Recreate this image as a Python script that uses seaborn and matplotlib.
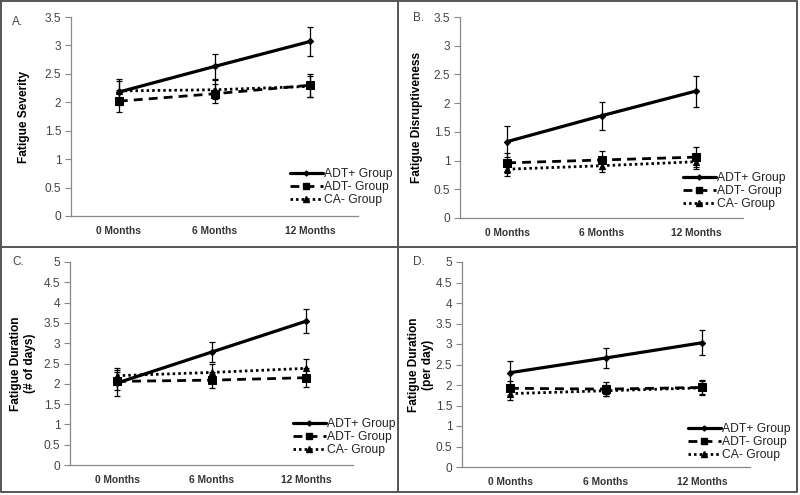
#Loading necessary modules
import numpy as np
import pandas as pd
import matplotlib
matplotlib.use('Agg')
import matplotlib.pyplot as plt
from matplotlib.lines import Line2D
import seaborn as sns

#time points and groups
times = ['0 Months', '6 Months', '12 Months']
groups = ['ADT+ Group', 'ADT- Group', 'CA- Group']

#A. fatigue severity (means and error bars)
sev_adtp = [2.18, 2.63, 3.07]
sev_adtp_err = [0.23, 0.22, 0.26]
sev_adtm = [2.02, 2.15, 2.30]
sev_adtm_err = [0.19, 0.17, 0.20]
sev_ca = [2.20, 2.22, 2.28]
sev_ca_err = [0.18, 0.17, 0.18]

#B. fatigue disruptiveness
dis_adtp = [1.33, 1.78, 2.21]
dis_adtp_err = [0.27, 0.24, 0.27]
dis_adtm = [0.96, 1.01, 1.06]
dis_adtm_err = [0.17, 0.16, 0.18]
dis_ca = [0.85, 0.91, 0.98]
dis_ca_err = [0.12, 0.11, 0.12]

#C. fatigue duration (# of days)
days_adtp = [2.02, 2.78, 3.54]
days_adtp_err = [0.32, 0.25, 0.30]
days_adtm = [2.06, 2.09, 2.15]
days_adtm_err = [0.22, 0.19, 0.23]
days_ca = [2.20, 2.28, 2.38]
days_ca_err = [0.20, 0.22, 0.24]

#D. fatigue duration (per day)
pday_adtp = [2.30, 2.66, 3.03]
pday_adtp_err = [0.29, 0.25, 0.30]
pday_adtm = [1.92, 1.90, 1.94]
pday_adtm_err = [0.17, 0.18, 0.19]
pday_ca = [1.79, 1.86, 1.93]
pday_ca_err = [0.15, 0.14, 0.16]

sns.set_style('white')
plt.rcParams['font.family'] = ['Liberation Sans', 'DejaVu Sans']

#line styles per group
styles = {
	'ADT+ Group': dict(ls='-', marker='D', ms=3.2, lw=2.3),
	'ADT- Group': dict(ls=(0, (3.2, 2.2)), marker='s', ms=5.5, lw=2.0),
	'CA- Group': dict(ls=(0, (0.9, 1.1)), marker='^', ms=5, lw=2.0),
}

panels = [
	dict(tag='A.', ylabel='Fatigue Severity', ymax=3.5,
		vals=[sev_adtp, sev_adtm, sev_ca], errs=[sev_adtp_err, sev_adtm_err, sev_ca_err],
		pos=[71, 17, 358, 216], leg=(290, 168), tagpos=(12, 22), ylx=24),
	dict(tag='B.', ylabel='Fatigue Disruptiveness', ymax=3.5,
		vals=[dis_adtp, dis_adtm, dis_ca], errs=[dis_adtp_err, dis_adtm_err, dis_ca_err],
		pos=[460, 17, 743, 218], leg=(683, 172), tagpos=(413, 18), ylx=417),
	dict(tag='C.', ylabel='Fatigue Duration\n(# of days)', ymax=5,
		vals=[days_adtp, days_adtm, days_ca], errs=[days_adtp_err, days_adtm_err, days_ca_err],
		pos=[70, 262, 353, 465], leg=(293, 418), tagpos=(12, 262), ylx=23),
	dict(tag='D.', ylabel='Fatigue Duration\n(per day)', ymax=5,
		vals=[pday_adtp, pday_adtm, pday_ca], errs=[pday_adtp_err, pday_adtm_err, pday_ca_err],
		pos=[462, 262, 750, 467], leg=(688, 423), tagpos=(413, 262), ylx=421),
]

W, H = 800, 495
fig = plt.figure(figsize=(8, 4.95), dpi=100)

for p in panels:
	x0, y0, x1, y1 = p['pos']
	ax = fig.add_axes([x0 / W, 1 - y1 / H, (x1 - x0) / W, (y1 - y0) / H])
	handles = []
	for g, v, e in zip(groups, p['vals'], p['errs']):
		st = styles[g]
		df = pd.DataFrame({'time': times, 'value': v})
		sns.lineplot(data=df, x='time', y='value', ax=ax, color='black', sort=False,
			linestyle=st['ls'], linewidth=st['lw'], marker=st['marker'], markersize=st['ms'],
			markeredgecolor='black', markerfacecolor='black', label=g, legend=False)
		ax.errorbar(times, v, yerr=e, fmt='none', ecolor='black', elinewidth=0.9,
			capsize=2.5, capthick=0.9)
		handles.append(Line2D([], [], color='black', linestyle=st['ls'], linewidth=st['lw'],
			marker=st['marker'], markersize=st['ms'] * 0.8))
	ax.set_xlim(-0.5, 2.5)
	ax.set_ylim(0, p['ymax'])
	ax.set_yticks(np.arange(0, p['ymax'] + 0.01, 0.5))
	ax.set_yticklabels(['%g' % t for t in np.arange(0, p['ymax'] + 0.01, 0.5)])
	ax.set_xticks([-0.5, 0.5, 1.5, 2.5], minor=True)
	ax.tick_params(axis='x', which='major', length=0, pad=7, labelsize=7.4, labelcolor='#333333')
	ax.tick_params(axis='x', which='minor', length=4, width=0.8, color='#888888', direction='out')
	ax.tick_params(axis='y', length=4, width=0.8, color='#888888', direction='out',
		left=True, labelsize=8.6, labelcolor='#444444', pad=3)
	for lab in ax.get_xticklabels():
		lab.set_fontweight('bold')
	sns.despine(ax=ax)
	for s in ['left', 'bottom']:
		ax.spines[s].set_color('#888888')
		ax.spines[s].set_linewidth(0.9)
	ax.set_xlabel('')
	ax.set_ylabel('')
	fig.text(p['ylx'] / W, 1 - ((y0 + y1) / 2) / H, p['ylabel'], rotation=90, ha='center',
		va='center', fontsize=8.6, fontweight='bold', color='black', linespacing=1.3)
	fig.text(p['tagpos'][0] / W, 1 - p['tagpos'][1] / H, p['tag'], fontsize=8.5, color='#444444',
		ha='left', va='center')
	fig.legend(handles, groups, loc='upper left', bbox_to_anchor=(p['leg'][0] / W, 1 - p['leg'][1] / H),
		bbox_transform=fig.transFigure, frameon=False, fontsize=8.7, handlelength=2.7,
		handletextpad=0.15, labelspacing=0.1, borderpad=0, borderaxespad=0, labelcolor='#222222')

#panel borders
border = dict(color='#555555', linewidth=1.4)
fig.add_artist(Line2D([1 / W, 797 / W, 797 / W, 1 / W, 1 / W], [1 - 1 / H, 1 - 1 / H, 1 - 492 / H, 1 - 492 / H, 1 - 1 / H], **border))
fig.add_artist(Line2D([398 / W, 398 / W], [1 - 1 / H, 1 - 492 / H], **border))
fig.add_artist(Line2D([1 / W, 797 / W], [1 - 247 / H, 1 - 247 / H], **border))

fig.savefig('out.png', dpi=100, facecolor='white')
